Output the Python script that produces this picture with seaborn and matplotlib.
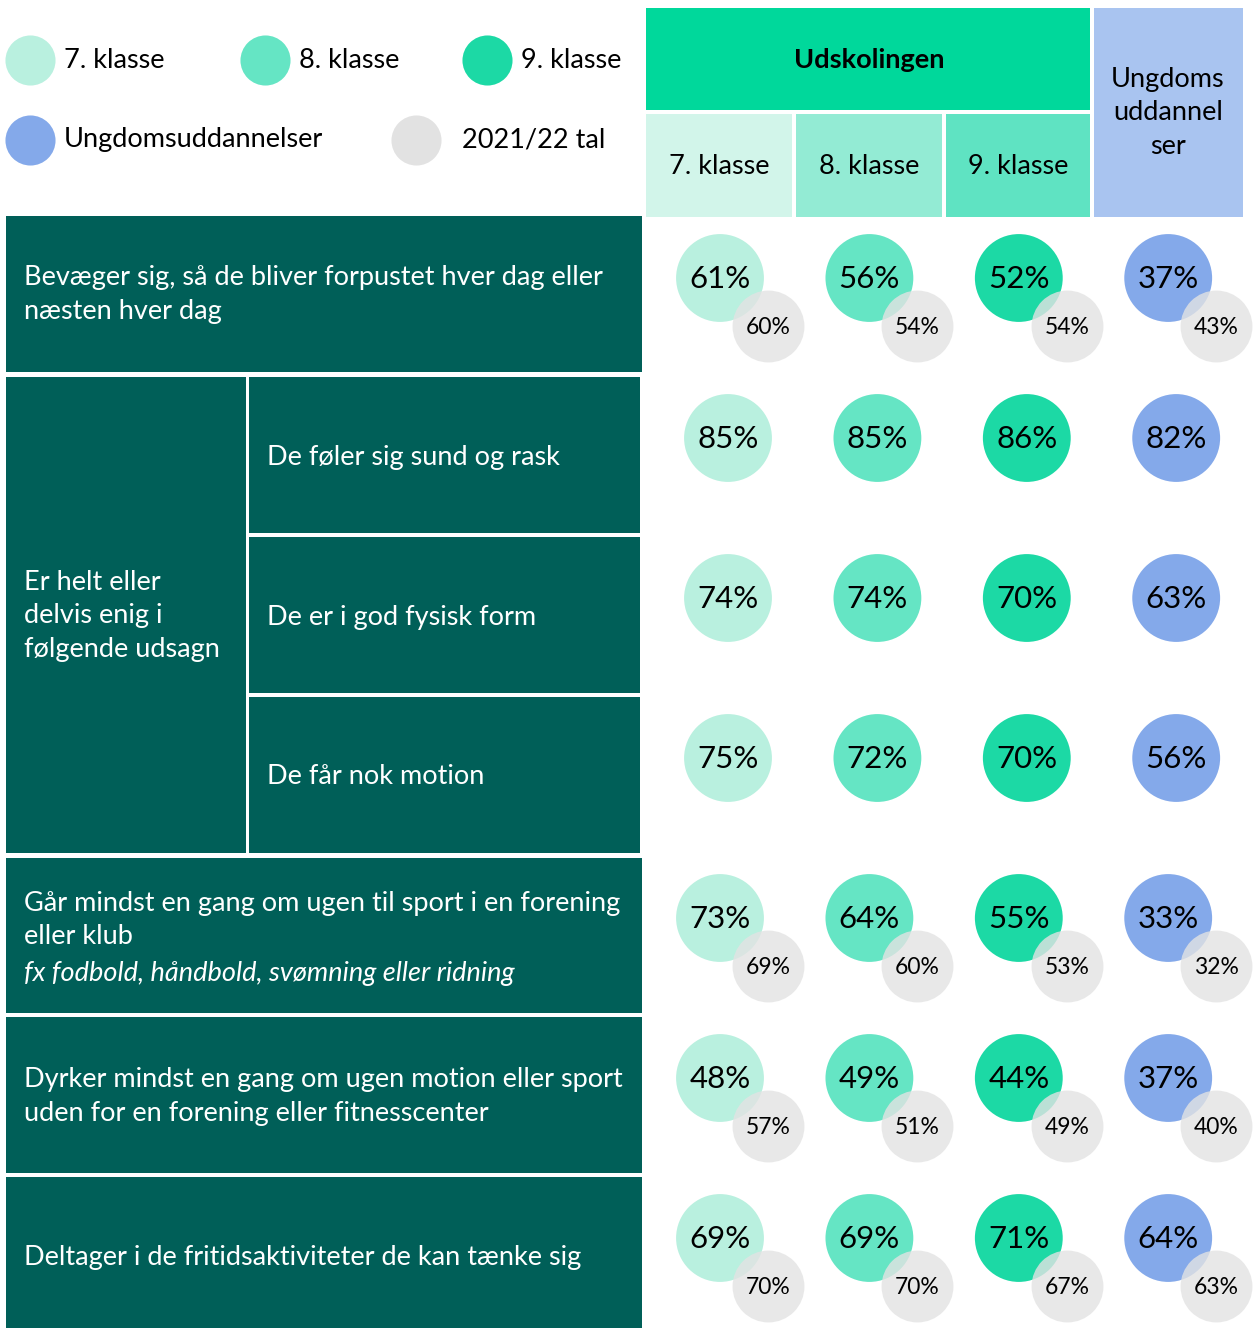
import matplotlib.pyplot as plt
import matplotlib.patches as mpatches
import seaborn as sns
import pandas as pd

# columns / groups
columns = ["7. klasse", "8. klasse", "9. klasse", "Ungdomsuddannelser"]
col_colors = ["#B9F0DF", "#65E5C4", "#1CD9A5", "#84A9EA"]
header_colors = ["#D2F5EA", "#93EBD4", "#5FE3C2"]

# values per column, 7 rows top to bottom (None = no 2021/22 value)
pct_7 = [61, 85, 74, 75, 73, 48, 69]
pct_8 = [56, 85, 74, 72, 64, 49, 69]
pct_9 = [52, 86, 70, 70, 55, 44, 71]
pct_ung = [37, 82, 63, 56, 33, 37, 64]
prev_7 = [60, None, None, None, 69, 57, 70]
prev_8 = [54, None, None, None, 60, 51, 70]
prev_9 = [54, None, None, None, 53, 49, 67]
prev_ung = [43, None, None, None, 32, 40, 63]

row_texts = [
    "Bevæger sig, så de bliver forpustet hver dag eller\nnæsten hver dag",
    "De føler sig sund og rask",
    "De er i god fysisk form",
    "De får nok motion",
    "Går mindst en gang om ugen til sport i en forening\neller klub",
    "Dyrker mindst en gang om ugen motion eller sport\nuden for en forening eller fitnesscenter",
    "Deltager i de fritidsaktiviteter de kan tænke sig",
]
group_text = "Er helt eller\ndelvis enig i\nfølgende udsagn"
row5_note = "fx fodbold, håndbold, svømning eller ridning"

sns.set_theme(style="white")
plt.rcParams['font.family'] = ['Lato', 'DejaVu Sans']
plt.rcParams['text.color'] = 'black'

# long table
recs = []
for j, (cur, prev) in enumerate(zip([pct_7, pct_8, pct_9, pct_ung],
                                    [prev_7, prev_8, prev_9, prev_ung])):
    for i in range(len(cur)):
        recs.append({"row": i, "col": columns[j], "j": j, "value": cur[i], "prev": prev[i]})
df = pd.DataFrame(recs)
has_prev = df["prev"].notna()
df["x"] = 724 + 149.4 * df["j"] + has_prev.map({True: -4, False: 4})
df["y"] = 278 + 160 * df["row"]
df["gx"] = df["x"] + 48
df["gy"] = df["y"] + 48

fig = plt.figure(figsize=(12.56, 13.28), dpi=100)
ax = fig.add_axes([0, 0, 1, 1])

teal = "#005F58"
FS = 19.5
LS = 1.45

def box(x0, y0, x1, y1, color):
    ax.add_patch(mpatches.Rectangle((x0, y0), x1 - x0, y1 - y0, facecolor=color,
                                    edgecolor="none", zorder=1))

# header boxes
box(646, 8, 1090, 110, "#00D89B")
box(1094, 8, 1243, 217, "#A9C4F0")
for k, (x0, x1) in enumerate([(646, 792), (796, 942), (946, 1090)]):
    box(x0, 114, x1, 217, header_colors[k])
    ax.text((x0 + x1) / 2, 167, columns[k], ha="center", va="center", fontsize=FS, zorder=5)
ax.text(869, 60, "Udskolingen", ha="center", va="center", fontsize=FS, fontweight="bold", zorder=5)
ax.text(1168, 113, "Ungdoms\nuddannel\nser", ha="center", va="center", fontsize=FS,
        linespacing=LS, zorder=5)

# left table
box(6, 216, 642, 372, teal)
box(6, 377, 246, 853, teal)
box(249, 377, 640, 533, teal)
box(249, 537, 640, 693, teal)
box(249, 697, 640, 853, teal)
box(6, 858, 642, 1013, teal)
box(6, 1017, 642, 1173, teal)
box(6, 1177, 642, 1328, teal)

kw = dict(ha="left", va="center", fontsize=FS, color="white", linespacing=LS, zorder=5)
ax.text(24, 295, row_texts[0], **kw)
ax.text(24, 616, group_text, **kw)
ax.text(267, 457, row_texts[1], **kw)
ax.text(267, 617, row_texts[2], **kw)
ax.text(267, 777, row_texts[3], **kw)
ax.text(24, 920, row_texts[4], **kw)
ax.text(24, 973, row5_note, style="italic", **kw)
ax.text(24, 1096, row_texts[5], **kw)
ax.text(24, 1257, row_texts[6], **kw)

# legend
leg = [(30, 60, col_colors[0], "7. klasse", 64), (265, 60, col_colors[1], "8. klasse", 299),
       (487, 60, col_colors[2], "9. klasse", 521), (30, 140, col_colors[3], "Ungdomsuddannelser", 64),
       (416, 140, "#E2E2E2", "2021/22 tal", 462)]
for cx, cy, c, lab, tx in leg:
    ax.scatter([cx], [cy], s=1300, color=c, linewidths=0, zorder=3)
    ax.text(tx, cy, lab, ha="left", va="center", fontsize=FS, zorder=5)

# circles
sns.scatterplot(data=df, x="x", y="y", hue="col", palette=dict(zip(columns, col_colors)),
                s=4000, linewidth=0, legend=False, ax=ax, zorder=3)
dp = df[has_prev]
sns.scatterplot(data=dp, x="gx", y="gy", color="#E3E3E3", alpha=0.8,
                s=2680, linewidth=0, legend=False, ax=ax, zorder=4)
ax.set_xlim(0, 1256)
ax.set_ylim(1328, 0)
ax.axis("off")

for _, r in df.iterrows():
    ax.text(r["x"], r["y"] + 1, f"{r['value']}%", ha="center", va="center", fontsize=22.5, zorder=6)
for _, r in dp.iterrows():
    ax.text(r["gx"], r["gy"] + 1, f"{int(r['prev'])}%", ha="center", va="center", fontsize=16.5, zorder=6)

fig.savefig("out.png", dpi=100, facecolor="white")
